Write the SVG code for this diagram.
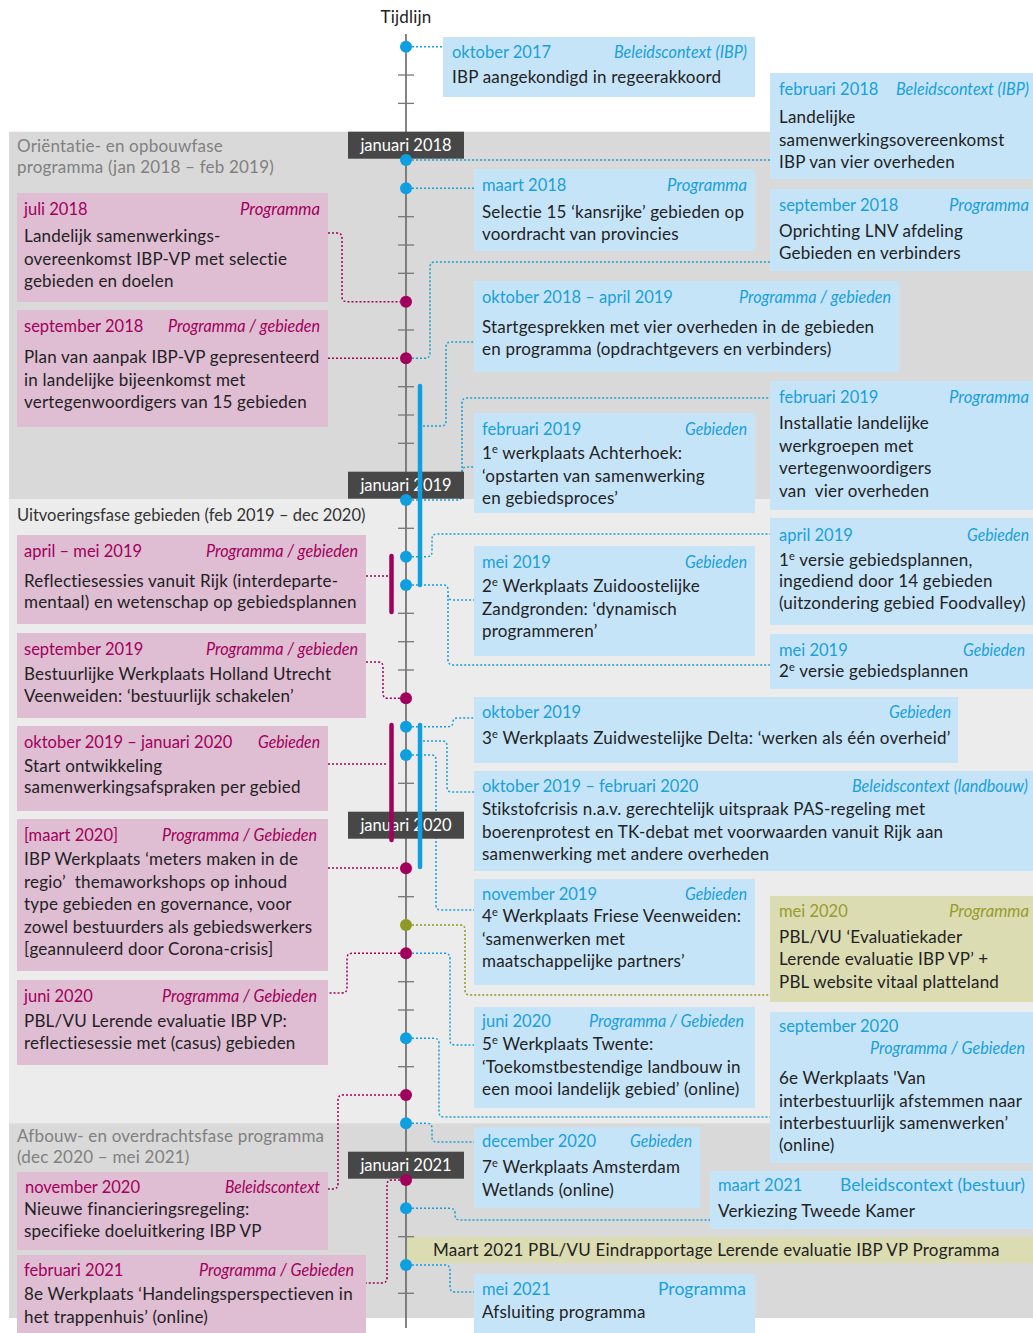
<svg xmlns="http://www.w3.org/2000/svg" width="1033" height="1333" viewBox="0 0 1033 1333">
<defs>
<style>
.f{font-family:Lato,"Open Sans","Noto Sans",sans-serif;font-size:16.5px}
.bd{fill:#222;font-size:17px;letter-spacing:.2px}
.hb{fill:#17a0dc}.hm{fill:#a1005c}.ho{fill:#9a9a2c}
.it{font-style:italic}
.sup{font-size:11px}
.bb{fill:#c6e4f8}.mb{fill:#dfbdd3}.ob{fill:#dcdcb3}
.cb,.cm,.co{fill:none;stroke-width:1.5;stroke-dasharray:2 2}
.cb{stroke:#17a0dc}.cm{stroke:#a1005c}.co{stroke:#8f9a25}
.tk{stroke:#777;stroke-width:1.3}
.db{fill:#0e9fe0}.dm{fill:#a1005c}.do{fill:#8f9a25}
.lab{fill:#474747}
.labt{fill:#fff;text-anchor:middle}
.ph{fill:#808080;font-size:17px;letter-spacing:.2px}
</style>
</defs>
<rect width="1033" height="1333" fill="#fff"/>
<g id="phases">
<rect x="9" y="131.7" width="1024" height="367.8" fill="#d9d9d9"/>
<rect x="9" y="499.5" width="1024" height="623.8" fill="#ececec"/>
<rect x="9" y="1123.3" width="1024" height="194.7" fill="#d9d9d9"/>
<text class="f ph" x="17" y="152">Oriëntatie- en opbouwfase</text>
<text class="f ph" x="17" y="173">programma (jan 2018 – feb 2019)</text>
<text class="f" fill="#333" font-size="17" x="17" y="521">Uitvoeringsfase gebieden (feb 2019 – dec 2020)</text>
<text class="f ph" x="17" y="1142">Afbouw- en overdrachtsfase programma</text>
<text class="f ph" x="17" y="1163">(dec 2020 – mei 2021)</text>
</g>
<text class="f bd" x="406" y="23" text-anchor="middle">Tijdlijn</text>

<g id="n-okt2017"><rect class="bb" x="443" y="37" width="312" height="60"/>
<text class="f hb" x="452" y="58">oktober 2017</text><text class="f hb it" x="614" y="58" textLength="133" lengthAdjust="spacingAndGlyphs">Beleidscontext (IBP)</text>
<text class="f bd" x="452" y="83">IBP aangekondigd in regeerakkoord</text></g>

<g id="n-feb2018"><rect class="bb" x="770" y="73" width="263" height="106"/>
<text class="f hb" x="779" y="95">februari 2018</text><text class="f hb it" x="896" y="95" textLength="133" lengthAdjust="spacingAndGlyphs">Beleidscontext (IBP)</text>
<text class="f bd" x="779" y="123">Landelijke</text><text class="f bd" x="779" y="146">samenwerkingsovereenkomst</text><text class="f bd" x="779" y="168">IBP van vier overheden</text></g>

<g id="n-mrt2018"><rect class="bb" x="474" y="169" width="281" height="82"/>
<text class="f hb" x="482" y="191">maart 2018</text><text class="f hb it" x="667" y="191" textLength="80" lengthAdjust="spacingAndGlyphs">Programma</text>
<text class="f bd" x="482" y="218">Selectie 15 ‘kansrijke’ gebieden op</text><text class="f bd" x="482" y="240">voordracht van provincies</text></g>

<g id="n-sep2018r"><rect class="bb" x="770" y="189" width="263" height="82"/>
<text class="f hb" x="779" y="211">september 2018</text><text class="f hb it" x="949" y="211" textLength="80" lengthAdjust="spacingAndGlyphs">Programma</text>
<text class="f bd" x="779" y="237">Oprichting LNV afdeling</text><text class="f bd" x="779" y="259">Gebieden en verbinders</text></g>

<g id="n-jul2018"><rect class="mb" x="17" y="193" width="311" height="109"/>
<text class="f hm" x="24" y="215">juli 2018</text><text class="f hm it" x="240" y="215" textLength="80" lengthAdjust="spacingAndGlyphs">Programma</text>
<text class="f bd" x="24" y="242">Landelijk samenwerkings-</text><text class="f bd" x="24" y="265">overeenkomst IBP-VP met selectie</text><text class="f bd" x="24" y="287">gebieden en doelen</text></g>

<g id="n-sep2018l"><rect class="mb" x="17" y="310" width="311" height="117"/>
<text class="f hm" x="24" y="332">september 2018</text><text class="f hm it" x="168" y="332" textLength="152" lengthAdjust="spacingAndGlyphs">Programma / gebieden</text>
<text class="f bd" x="24" y="363">Plan van aanpak IBP-VP gepresenteerd</text><text class="f bd" x="24" y="386">in landelijke bijeenkomst met</text><text class="f bd" x="24" y="408">vertegenwoordigers van 15 gebieden</text></g>

<g id="n-okt2018"><rect class="bb" x="474" y="281" width="425" height="91"/>
<text class="f hb" x="482" y="303">oktober 2018 – april 2019</text><text class="f hb it" x="739" y="303" textLength="152" lengthAdjust="spacingAndGlyphs">Programma / gebieden</text>
<text class="f bd" x="482" y="333">Startgesprekken met vier overheden in de gebieden</text><text class="f bd" x="482" y="355">en programma (opdrachtgevers en verbinders)</text></g>

<g id="n-feb2019p"><rect class="bb" x="770" y="381" width="263" height="129"/>
<text class="f hb" x="779" y="403">februari 2019</text><text class="f hb it" x="949" y="403" textLength="80" lengthAdjust="spacingAndGlyphs">Programma</text>
<text class="f bd" x="779" y="429">Installatie landelijke</text><text class="f bd" x="779" y="452">werkgroepen met</text><text class="f bd" x="779" y="474">vertegenwoordigers</text><text class="f bd" x="779" y="497">van&#160; vier overheden</text></g>

<g id="n-feb2019g"><rect class="bb" x="474" y="413" width="281" height="100"/>
<text class="f hb" x="482" y="435">februari 2019</text><text class="f hb it" x="685" y="435" textLength="62" lengthAdjust="spacingAndGlyphs">Gebieden</text>
<text class="f bd" x="482" y="459">1<tspan class="sup" dy="-6">e</tspan><tspan dy="6"> werkplaats Achterhoek:</tspan></text><text class="f bd" x="482" y="482">‘opstarten van samenwerking</text><text class="f bd" x="482" y="504">en gebiedsproces’</text></g>

<g id="n-aprmei2019"><rect class="mb" x="17" y="535" width="349" height="89"/>
<text class="f hm" x="24" y="557">april – mei 2019</text><text class="f hm it" x="206" y="557" textLength="152" lengthAdjust="spacingAndGlyphs">Programma / gebieden</text>
<text class="f bd" x="24" y="587">Reflectiesessies vanuit Rijk (interdeparte-</text><text class="f bd" x="24" y="608">mentaal) en wetenschap op gebiedsplannen</text></g>

<g id="n-apr2019"><rect class="bb" x="770" y="518" width="263" height="107"/>
<text class="f hb" x="779" y="541">april 2019</text><text class="f hb it" x="967" y="541" textLength="62" lengthAdjust="spacingAndGlyphs">Gebieden</text>
<text class="f bd" x="779" y="566">1<tspan class="sup" dy="-6">e</tspan><tspan dy="6"> versie gebiedsplannen,</tspan></text><text class="f bd" x="779" y="587">ingediend door 14 gebieden</text><text class="f bd" x="779" y="609">(uitzondering gebied Foodvalley)</text></g>

<g id="n-mei2019g"><rect class="bb" x="474" y="546" width="281" height="110"/>
<text class="f hb" x="482" y="568">mei 2019</text><text class="f hb it" x="685" y="568" textLength="62" lengthAdjust="spacingAndGlyphs">Gebieden</text>
<text class="f bd" x="482" y="592">2<tspan class="sup" dy="-6">e</tspan><tspan dy="6"> Werkplaats Zuidoostelijke</tspan></text><text class="f bd" x="482" y="615">Zandgronden: ‘dynamisch</text><text class="f bd" x="482" y="637">programmeren’</text></g>

<g id="n-mei2019r"><rect class="bb" x="770" y="634" width="263" height="55"/>
<text class="f hb" x="779" y="656">mei 2019</text><text class="f hb it" x="963" y="656" textLength="62" lengthAdjust="spacingAndGlyphs">Gebieden</text>
<text class="f bd" x="779" y="677">2<tspan class="sup" dy="-6">e</tspan><tspan dy="6"> versie gebiedsplannen</tspan></text></g>

<g id="n-sep2019"><rect class="mb" x="17" y="633" width="349" height="85"/>
<text class="f hm" x="24" y="655">september 2019</text><text class="f hm it" x="206" y="655" textLength="152" lengthAdjust="spacingAndGlyphs">Programma / gebieden</text>
<text class="f bd" x="24" y="680">Bestuurlijke Werkplaats Holland Utrecht</text><text class="f bd" x="24" y="702">Veenweiden: ‘bestuurlijk schakelen’</text></g>

<g id="n-okt2019"><rect class="bb" x="474" y="697" width="484" height="66"/>
<text class="f hb" x="482" y="718">oktober 2019</text><text class="f hb it" x="889" y="718" textLength="62" lengthAdjust="spacingAndGlyphs">Gebieden</text>
<text class="f bd" x="482" y="744">3<tspan class="sup" dy="-6">e</tspan><tspan dy="6"> Werkplaats Zuidwestelijke Delta: ‘werken als één overheid’</tspan></text></g>

<g id="n-okt2019jan"><rect class="mb" x="17" y="726" width="311" height="85"/>
<text class="f hm" x="24" y="748">oktober 2019 – januari 2020</text><text class="f hm it" x="258" y="748" textLength="62" lengthAdjust="spacingAndGlyphs">Gebieden</text>
<text class="f bd" x="24" y="772">Start ontwikkeling</text><text class="f bd" x="24" y="793">samenwerkingsafspraken per gebied</text></g>

<g id="n-okt2019feb"><rect class="bb" x="474" y="771" width="559" height="100"/>
<text class="f hb" x="482" y="792">oktober 2019 – februari 2020</text><text class="f hb it" x="852" y="792" textLength="176" lengthAdjust="spacingAndGlyphs">Beleidscontext (landbouw)</text>
<text class="f bd" x="482" y="815">Stikstofcrisis n.a.v. gerechtelijk uitspraak PAS-regeling met</text><text class="f bd" x="482" y="838">boerenprotest en TK-debat met voorwaarden vanuit Rijk aan</text><text class="f bd" x="482" y="860">samenwerking met andere overheden</text></g>

<g id="n-mrt2020"><rect class="mb" x="17" y="819" width="311" height="152"/>
<text class="f hm" x="24" y="841">[maart 2020]</text><text class="f hm it" x="162" y="841" textLength="155" lengthAdjust="spacingAndGlyphs">Programma / Gebieden</text>
<text class="f bd" x="24" y="865">IBP Werkplaats ‘meters maken in de</text><text class="f bd" x="24" y="888" xml:space="preserve">regio’  themaworkshops op inhoud</text><text class="f bd" x="24" y="910">type gebieden en governance, voor</text><text class="f bd" x="24" y="933">zowel bestuurders als gebiedswerkers</text><text class="f bd" x="24" y="955">[geannuleerd door Corona-crisis]</text></g>

<g id="n-nov2019"><rect class="bb" x="474" y="879" width="281" height="106"/>
<text class="f hb" x="482" y="900">november 2019</text><text class="f hb it" x="685" y="900" textLength="62" lengthAdjust="spacingAndGlyphs">Gebieden</text>
<text class="f bd" x="482" y="922">4<tspan class="sup" dy="-6">e</tspan><tspan dy="6"> Werkplaats Friese Veenweiden:</tspan></text><text class="f bd" x="482" y="945">‘samenwerken met</text><text class="f bd" x="482" y="967">maatschappelijke partners’</text></g>

<g id="n-mei2020"><rect class="ob" x="770" y="896" width="263" height="106"/>
<text class="f ho" x="779" y="917">mei 2020</text><text class="f ho it" x="949" y="917" textLength="80" lengthAdjust="spacingAndGlyphs">Programma</text>
<text class="f bd" x="779" y="943">PBL/VU ‘Evaluatiekader</text><text class="f bd" x="779" y="965">Lerende evaluatie IBP VP’ +</text><text class="f bd" x="779" y="988">PBL website vitaal platteland</text></g>

<g id="n-jun2020l"><rect class="mb" x="17" y="980" width="311" height="85"/>
<text class="f hm" x="24" y="1002">juni 2020</text><text class="f hm it" x="162" y="1002" textLength="155" lengthAdjust="spacingAndGlyphs">Programma / Gebieden</text>
<text class="f bd" x="24" y="1027">PBL/VU Lerende evaluatie IBP VP:</text><text class="f bd" x="24" y="1049">reflectiesessie met (casus) gebieden</text></g>

<g id="n-jun2020b"><rect class="bb" x="474" y="1007" width="281" height="101"/>
<text class="f hb" x="482" y="1027">juni 2020</text><text class="f hb it" x="589" y="1027" textLength="155" lengthAdjust="spacingAndGlyphs">Programma / Gebieden</text>
<text class="f bd" x="482" y="1050">5<tspan class="sup" dy="-6">e</tspan><tspan dy="6"> Werkplaats Twente:</tspan></text><text class="f bd" x="482" y="1073">‘Toekomstbestendige landbouw in</text><text class="f bd" x="482" y="1095">een mooi landelijk gebied’ (online)</text></g>

<g id="n-sep2020"><rect class="bb" x="770" y="1012" width="263" height="151"/>
<text class="f hb" x="779" y="1032">september 2020</text><text class="f hb it" x="870" y="1054" textLength="155" lengthAdjust="spacingAndGlyphs">Programma / Gebieden</text>
<text class="f bd" x="779" y="1084">6e Werkplaats 'Van</text><text class="f bd" x="779" y="1107">interbestuurlijk afstemmen naar</text><text class="f bd" x="779" y="1129">interbestuurlijk samenwerken’</text><text class="f bd" x="779" y="1151">(online)</text></g>

<g id="n-dec2020"><rect class="bb" x="474" y="1127" width="226" height="81"/>
<text class="f hb" x="482" y="1147">december 2020</text><text class="f hb it" x="630" y="1147" textLength="62" lengthAdjust="spacingAndGlyphs">Gebieden</text>
<text class="f bd" x="482" y="1173">7<tspan class="sup" dy="-6">e</tspan><tspan dy="6"> Werkplaats Amsterdam</tspan></text><text class="f bd" x="482" y="1196">Wetlands (online)</text></g>

<g id="n-nov2020"><rect class="mb" x="17" y="1172" width="311" height="78"/>
<text class="f hm" x="25" y="1193">november 2020</text><text class="f hm it" x="225" y="1193" textLength="95" lengthAdjust="spacingAndGlyphs">Beleidscontext</text>
<text class="f bd" x="24" y="1215">Nieuwe financieringsregeling:</text><text class="f bd" x="24" y="1237">specifieke doeluitkering IBP VP</text></g>

<g id="n-mrt2021"><rect class="bb" x="710" y="1171" width="323" height="58"/>
<text class="f hb" x="718" y="1191">maart 2021</text><text class="f hb" x="840" y="1191" textLength="185" lengthAdjust="spacingAndGlyphs">Beleidscontext (bestuur)</text>
<text class="f bd" x="718" y="1217">Verkiezing Tweede Kamer</text></g>

<g id="n-mrt2021pbl"><rect class="ob" x="406" y="1237" width="627" height="26"/>
<text class="f bd" x="433" y="1256">Maart 2021 PBL/VU Eindrapportage Lerende evaluatie IBP VP Programma</text></g>

<g id="n-feb2021"><rect class="mb" x="17" y="1255" width="349" height="78"/>
<text class="f hm" x="24" y="1276">februari 2021</text><text class="f hm it" x="199" y="1276" textLength="155" lengthAdjust="spacingAndGlyphs">Programma / Gebieden</text>
<text class="f bd" x="24" y="1300">8e Werkplaats ‘Handelingsperspectieven in</text><text class="f bd" x="24" y="1323">het trappenhuis’ (online)</text></g>

<g id="n-mei2021"><rect class="bb" x="474" y="1274" width="281" height="59"/>
<text class="f hb" x="482" y="1295">mei 2021</text><text class="f hb" x="658" y="1295" textLength="88" lengthAdjust="spacingAndGlyphs">Programma</text>
<text class="f bd" x="482" y="1318">Afsluiting programma</text></g>

<g id="connectors">
<path class="cb" d="M412 46.7 H443"/>
<path class="cb" d="M412 160 H770"/>
<path class="cb" d="M412 188.3 H474"/>
<path class="cb" d="M412 358.3 H425 Q430 358.3 430 353.3 V267 Q430 262 435 262 H770"/>
<path class="cb" d="M423 426 H441 Q446 426 446 421 V347 Q446 342 451 342 H474"/>
<path class="cb" d="M412 500 H457 Q462 500 462 495 V403 Q462 398 467 398 H770"/>
<path class="cb" d="M462 472 Q462 467 467 467 H474"/>
<path class="cb" d="M412 556.7 H427 Q432 556.7 432 551.7 V539 Q432 534 437 534 H770"/>
<path class="cb" d="M412 585 H443 Q448 585 448 590 V660 Q448 665 453 665 H770"/>
<path class="cb" d="M448 595 Q448 600 453 600 H474"/>
<path class="cb" d="M412 726.7 H448 Q453 726.7 453 722 Q453 718 458 718 H474"/>
<path class="cb" d="M423 741 H442 Q447 741 447 746 V787 Q447 792 452 792 H474"/>
<path class="cb" d="M412 755 H431 Q436 755 436 760 V905 Q436 910 441 910 H474"/>
<path class="cb" d="M412 953.3 H445 Q450 953.3 450 958.3 V1040 Q450 1045 455 1045 H474"/>
<path class="cb" d="M412 1038.3 H434 Q439 1038.3 439 1043.3 V1112 Q439 1117 444 1117 H770"/>
<path class="cb" d="M412 1123.3 H427 Q432 1123.3 432 1128.3 V1137 Q432 1142 437 1142 H474"/>
<path class="cb" d="M412 1208.3 H450 Q455 1208.3 455 1213.3 V1215 Q455 1220 460 1220 H710"/>
<path class="cb" d="M412 1265 H445 Q450 1265 450 1270 V1287 Q450 1292 455 1292 H474"/>
<path class="cm" d="M328 233 H337 Q342 233 342 238 V296.7 Q342 301.7 347 301.7 H400"/>
<path class="cm" d="M328 358.3 H400"/>
<path class="cm" d="M366 576 H388"/>
<path class="cm" d="M366 662 H378 Q383 662 383 667 V693.3 Q383 698.3 388 698.3 H400"/>
<path class="cm" d="M328 764 H388"/>
<path class="cm" d="M328 868 H400"/>
<path class="cm" d="M400 953.3 H352 Q347 953.3 347 958.3 V988 Q347 993 342 993 H328"/>
<path class="cm" d="M400 1095 H343 Q338 1095 338 1100 V1184 Q338 1189 333 1189 H328"/>
<path class="cm" d="M400 1180 H392 Q387 1180 387 1185 V1278 Q387 1283 382 1283 H366"/>
<path class="co" d="M412 925 H460 Q465 925 465 930 V990 Q465 995 470 995 H770"/>
</g>

<g id="timeline">
<line x1="406" y1="34" x2="406" y2="1328" stroke="#666" stroke-width="1.6"/>
<g class="tk">
<line x1="398" x2="414" y1="75" y2="75"/><line x1="398" x2="414" y1="103.4" y2="103.4"/>
<line x1="398" x2="414" y1="216.7" y2="216.7"/><line x1="398" x2="414" y1="245" y2="245"/><line x1="398" x2="414" y1="273.3" y2="273.3"/>
<line x1="398" x2="414" y1="330" y2="330"/><line x1="398" x2="414" y1="386.7" y2="386.7"/><line x1="398" x2="414" y1="415" y2="415"/><line x1="398" x2="414" y1="443.3" y2="443.3"/>
<line x1="398" x2="414" y1="528.3" y2="528.3"/><line x1="398" x2="414" y1="613.3" y2="613.3"/><line x1="398" x2="414" y1="641.7" y2="641.7"/><line x1="398" x2="414" y1="670" y2="670"/>
<line x1="398" x2="414" y1="783.3" y2="783.3"/><line x1="398" x2="414" y1="896.7" y2="896.7"/><line x1="398" x2="414" y1="981.7" y2="981.7"/><line x1="398" x2="414" y1="1010" y2="1010"/>
<line x1="398" x2="414" y1="1066.7" y2="1066.7"/><line x1="398" x2="414" y1="1236.7" y2="1236.7"/><line x1="398" x2="414" y1="1293.3" y2="1293.3"/>
</g>
<g id="year-labels">
<rect class="lab" x="348" y="131.7" width="116" height="27"/><text class="f labt" x="406" y="151">januari 2018</text>
<rect class="lab" x="348" y="471.7" width="116" height="27"/><text class="f labt" x="406" y="491">januari 2019</text>
<rect class="lab" x="348" y="811.7" width="116" height="27"/><text class="f labt" x="406" y="831">januari 2020</text>
<rect class="lab" x="348" y="1151.7" width="116" height="27"/><text class="f labt" x="406" y="1171">januari 2021</text>
</g>
<g id="bars" stroke-width="4.5" stroke-linecap="round">
<line x1="420" y1="386" x2="420" y2="585" stroke="#0e9fe0"/>
<line x1="420" y1="725" x2="420" y2="867" stroke="#0e9fe0"/>
<line x1="391.5" y1="556" x2="391.5" y2="612" stroke="#a1005c"/>
<line x1="391.5" y1="725" x2="391.5" y2="840" stroke="#a1005c"/>
</g>
<g id="dots">
<circle class="db" cx="406" cy="46.7" r="6"/><circle class="db" cx="406" cy="160" r="6"/><circle class="db" cx="406" cy="188.3" r="6"/>
<circle class="db" cx="406" cy="500" r="6"/><circle class="db" cx="406" cy="556.7" r="6"/><circle class="db" cx="406" cy="585" r="6"/>
<circle class="db" cx="406" cy="726.7" r="6"/><circle class="db" cx="406" cy="755" r="6"/><circle class="db" cx="406" cy="1038.3" r="6"/>
<circle class="db" cx="406" cy="1123.3" r="6"/><circle class="db" cx="406" cy="1208.3" r="6"/><circle class="db" cx="406" cy="1265" r="6"/>
<circle class="dm" cx="406" cy="301.7" r="6"/><circle class="dm" cx="406" cy="358.3" r="6"/><circle class="dm" cx="406" cy="698.3" r="6"/>
<circle class="dm" cx="406" cy="868.3" r="6"/><circle class="dm" cx="406" cy="953.3" r="6"/><circle class="dm" cx="406" cy="1095" r="6"/>
<circle class="dm" cx="406" cy="1180" r="6"/>
<circle class="do" cx="406" cy="925" r="6"/>
</g>
</g>
</svg>
